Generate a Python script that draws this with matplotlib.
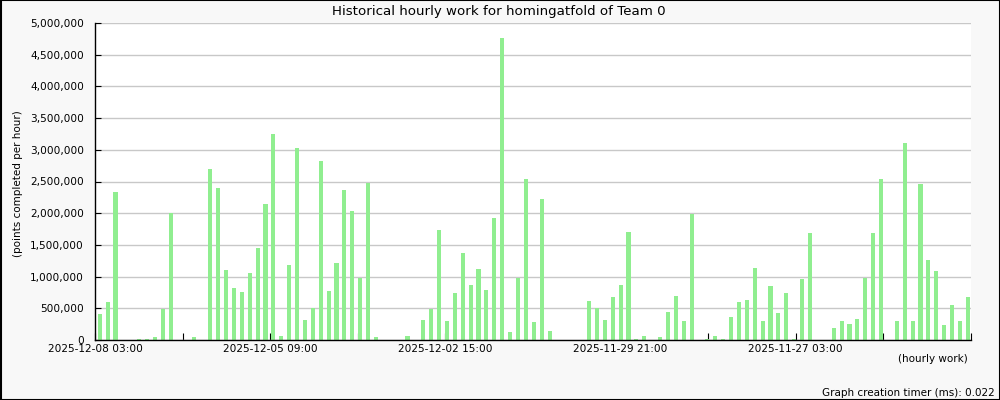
import matplotlib
matplotlib.use("Agg")
import matplotlib.pyplot as plt
import numpy as np
from matplotlib.ticker import FuncFormatter

# hourly points, newest on the left
work = [408e3, 597e3, 2.34e6, 0, 0, 15e3, 15e3, 47e3, 487e3, 2.01e6,
        0, 0, 45e3, 0, 2.69e6, 2.39e6, 1.10e6, 817e3, 754e3, 1.05e6,
        1.445e6, 2.14e6, 3.25e6, 63e3, 1.19e6, 3.03e6, 314e3, 503e3, 2.83e6, 770e3,
        1.21e6, 2.36e6, 2.04e6, 984e3, 2.47e6, 47e3, 0, 0, 0, 63e3,
        0, 314e3, 487e3, 1.74e6, 298e3, 738e3, 1.37e6, 864e3, 1.115e6, 785e3,
        1.93e6, 4.76e6, 126e3, 974e3, 2.545e6, 283e3, 2.23e6, 141e3, 0, 0,
        0, 0, 613e3, 503e3, 314e3, 675e3, 864e3, 1.71e6, 15e3, 63e3,
        0, 47e3, 440e3, 691e3, 298e3, 1.99e6, 0, 15e3, 63e3, 15e3,
        363e3, 600e3, 630e3, 1.135e6, 300e3, 852e3, 426e3, 741e3, 15e3, 962e3,
        1.69e6, 0, 0, 189e3, 300e3, 252e3, 331e3, 978e3, 1.69e6, 2.54e6,
        0, 300e3, 3.1e6, 300e3, 2.46e6, 1.26e6, 1.09e6, 237e3, 552e3, 300e3,
        678e3]

tick_labels = ["2025-12-08 03:00", "2025-12-05 09:00", "2025-12-02 15:00",
               "2025-11-29 21:00", "2025-11-27 03:00"]

bg = "#f8f8f8"
fig = plt.figure(figsize=(10, 4), dpi=100, facecolor=bg)
ax = fig.add_axes([0.095, 0.15, 0.876, 0.7925])
ax.set_facecolor("white")

n = len(work)
x = np.arange(n) + 0.6
ax.bar(x, work, width=0.52, color="#90ee90", zorder=2)

ax.set_xlim(0, n)
ax.set_ylim(0, 5e6)
ax.set_yticks(np.arange(0, 5e6 + 1, 5e5))
ax.yaxis.set_major_formatter(FuncFormatter(lambda v, p: f"{int(v):,}"))
ax.grid(axis="y", color="#c8c8c8", linewidth=1, zorder=0)

ticks = np.linspace(0, n, 11)
ax.set_xticks(ticks)
ax.set_xticklabels([tick_labels[i // 2] if i % 2 == 0 and i // 2 < len(tick_labels) else ""
                    for i in range(len(ticks))])

ax.tick_params(axis="both", direction="in", labelsize=7.6, colors="black")
ax.tick_params(axis="y", length=4, pad=8)
ax.tick_params(axis="x", length=5, pad=3)

for s in ["top", "right"]:
    ax.spines[s].set_visible(False)
for s in ["left", "bottom"]:
    ax.spines[s].set_color("black")
    ax.spines[s].set_linewidth(1)

fig.text(0.4985, 1 - 11 / 400, "Historical hourly work for homingatfold of Team 0",
         ha="center", va="center", fontsize=9.6)
fig.text(0.018, 1 - 184 / 400, "(points completed per hour)", rotation=90,
         ha="center", va="center", fontsize=7.5)
fig.text(0.968, 1 - 359 / 400, "(hourly work)", ha="right", va="center", fontsize=7.5)
fig.text(0.995, 1 - 393 / 400, "Graph creation timer (ms): 0.022",
         ha="right", va="center", fontsize=7.5)

# black frame around the whole picture
fig.patches.append(plt.Rectangle((0.0005, 0.001), 0.999, 0.998, transform=fig.transFigure,
                                 fill=False, edgecolor="black", linewidth=1.5))

fig.savefig("out.png", dpi=100, facecolor=bg)
